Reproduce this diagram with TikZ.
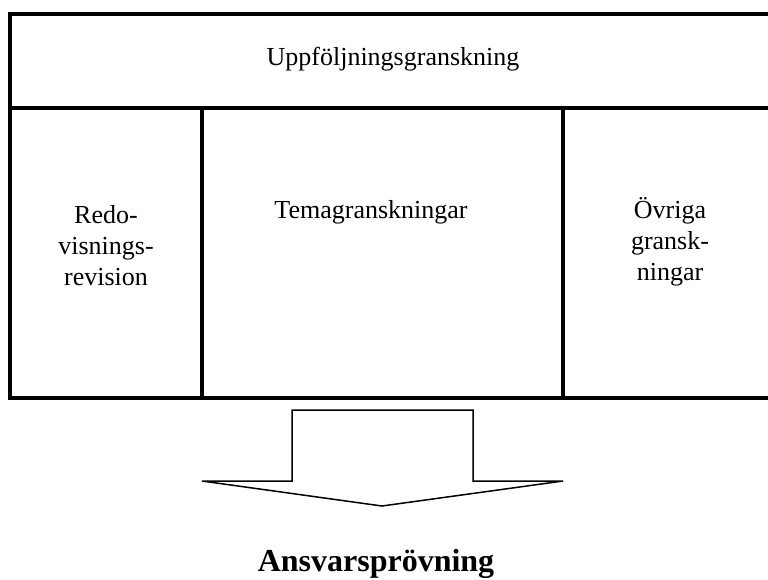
\documentclass[tikz,border=0pt]{standalone}
\usepackage{fontspec}
\setmainfont{Liberation Serif}
\begin{document}
\begin{tikzpicture}[x=1pt,y=-1pt,
  frame/.style={line width=4pt},
  lbl/.style={font=\fontsize{26}{31}\selectfont,align=center,anchor=base}]
 \useasboundingbox (0,0) rectangle (768,579);
 \draw[frame] (10,398)--(10,14)--(776,14)--(776,398)--cycle;
 \draw[frame] (10,108)--(776,108);
 \draw[frame] (202,108)--(202,398);
 \draw[frame] (563,108)--(563,398);
 \draw[line width=1.5pt,line join=miter] (292,481)--(292,410)--(473,410)--(473,481)--(563,481)--(382,506)--(202,481)--cycle;
 \node[lbl] (uppf) at (393,65) {Uppföljningsgranskning};
 \node[lbl] (tema) at (371,218) {Temagranskningar};
 \node[lbl,anchor=north] (redo) at (106,202) {Redo-\\visnings-\\revision};
 \node[lbl,anchor=north] (ovr) at (670,194) {Övriga\\gransk-\\ningar};
 \node[lbl,font=\fontsize{32}{38}\bfseries\selectfont] (ansv) at (376,571) {Ansvarsprövning};
\end{tikzpicture}
\end{document}
